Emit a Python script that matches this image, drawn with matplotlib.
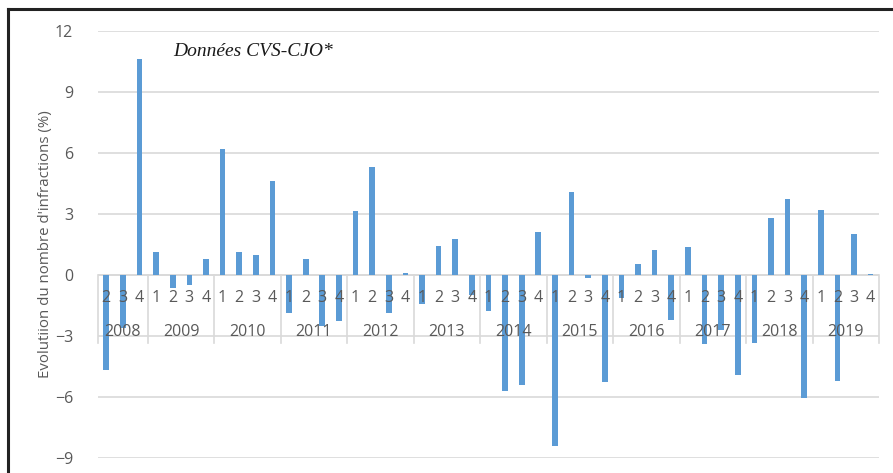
import numpy as np
import matplotlib.pyplot as plt
from matplotlib.lines import Line2D

# quarterly change in the number of offences (%), 2008 Q2 - 2019 Q4
years = ['2008', '2009', '2010', '2011', '2012', '2013',
         '2014', '2015', '2016', '2017', '2018', '2019']
quarters = [['2', '3', '4']] + [['1', '2', '3', '4']] * 11
values = [
    -4.7, -2.6, 10.6,
    1.1, -0.65, -0.5, 0.8,
    6.2, 1.1, 1.0, 4.6,
    -1.9, 0.8, -2.5, -2.25,
    3.15, 5.3, -1.9, 0.08,
    -1.45, 1.4, 1.75, -1.0,
    -1.8, -5.7, -5.4, 2.1,
    -8.4, 4.1, -0.15, -5.25,
    -1.15, 0.55, 1.2, -2.2,
    1.35, -3.4, -2.7, -4.95,
    -3.35, 2.8, 3.75, -6.05,
    3.2, -5.2, 2.0, 0.05,
]

bar_color = '#5b9bd5'
text_color = '#595959'
grid_color = '#d9d9d9'

plt.rcParams['font.family'] = ['Open Sans', 'DejaVu Sans']

fig = plt.figure(figsize=(8.93, 4.73), dpi=100)
ax = fig.add_axes([0.1097, 0.0323, 0.8746, 0.9022])

x = np.arange(len(values))
ax.bar(x, values, width=0.34, color=bar_color, zorder=2)

ax.set_xlim(-0.5, len(values) - 0.5)
ax.set_ylim(-9, 12)
ax.set_yticks([12, 9, 6, 3, 0, -3, -6, -9])
ax.tick_params(axis='y', length=0, pad=18, labelsize=11.5, labelcolor=text_color)
ax.set_xticks([])
ax.grid(axis='y', color=grid_color, linewidth=1.2, zorder=0)
ax.axhline(0, color=grid_color, linewidth=1.2, zorder=1)
for s in ax.spines.values():
    s.set_visible(False)

ax.set_ylabel("Evolutiion du nombre d'infractions (%)", fontsize=10.8,
              color=text_color, labelpad=1)

# two-level category axis: quarters, then years with separators
pos = 0
bounds = [-0.5]
for yr, qs in zip(years, quarters):
    for q in qs:
        ax.text(pos, -1.16, q, ha='center', va='center', fontsize=11.5,
                color=text_color, zorder=3)
        pos += 1
    ax.text(pos - len(qs) / 2 - 0.5, -2.83, yr, ha='center', va='center',
            fontsize=11.5, color=text_color, zorder=3)
    bounds.append(pos - 0.5)
for b in bounds:
    ax.plot([b, b], [0, -3.37], color=grid_color, linewidth=1.2,
            clip_on=False, zorder=1)

ax.text(4.0, 10.75, 'Données CVS-CJO*', fontsize=14, style='italic',
        family=['Liberation Serif', 'DejaVu Serif'], color='#1a1a1a')

# frame of the original figure box
fig.add_artist(Line2D([0.0095, 1.0], [0.980, 0.980], color='#222222',
                      linewidth=2.2, transform=fig.transFigure))
fig.add_artist(Line2D([0.0095, 0.0095], [0.0, 0.980], color='#222222',
                      linewidth=2.2, transform=fig.transFigure))

fig.savefig('out.png', dpi=100)
